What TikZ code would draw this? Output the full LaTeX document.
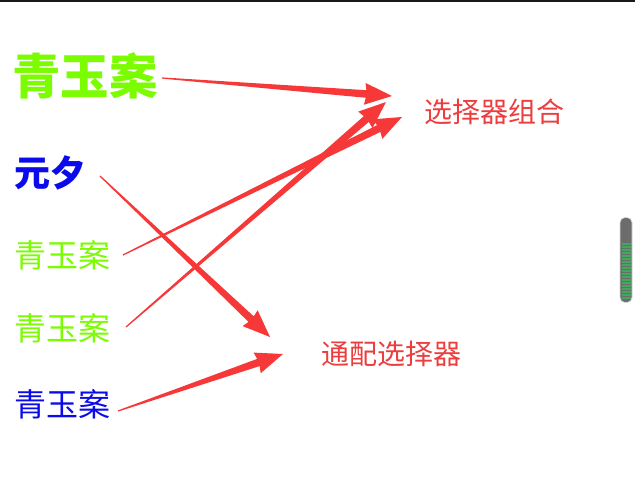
\documentclass[tikz,border=0pt]{standalone}
\usepackage{fontspec}
\newfontfamily\cjk{Noto Sans CJK SC}
\usetikzlibrary{calc}
\definecolor{lgreen}{RGB}{124,252,0}
\definecolor{dblue}{RGB}{10,10,235}
\definecolor{redtext}{RGB}{236,62,62}
\definecolor{redarrow}{RGB}{246,56,56}
\definecolor{sbgray}{RGB}{108,108,108}
\definecolor{sbgreen}{RGB}{70,165,95}
\tikzset{
  txt/.style={anchor=west, inner sep=0pt, font=\cjk},
  arrowfill/.style={fill=redarrow}
}
\newcommand\taperarrow[2]{%
  \path ($(#2)!26pt!(#1)$) coordinate (hbase);
  \fill[arrowfill] ($(#1)!0.6pt!90:(#2)$) -- ($(hbase)!3.8pt!90:(#2)$) -- ($(hbase)!11pt!97:(#2)$) -- (#2) -- ($(hbase)!11pt!-97:(#2)$) -- ($(hbase)!3.8pt!-90:(#2)$) -- ($(#1)!0.6pt!-90:(#2)$) -- cycle;%
}
\begin{document}
\begin{tikzpicture}[x=1pt,y=-1pt]
\useasboundingbox (0,0) rectangle (635,503);
\fill[white] (0,0) rectangle (635,503);
\fill[black!90] (0,0) rectangle (635,2);
% texts
\node[txt, text=lgreen, font=\cjk\bfseries\fontsize{48.5}{52}\selectfont] (big) at (12,76) {青玉案};
\node[txt, text=dblue, font=\cjk\bfseries\fontsize{36}{40}\selectfont] (yx) at (14,173) {元夕};
\node[txt, text=lgreen, font=\cjk\fontsize{32}{36}\selectfont] (g1) at (14,255) {青玉案};
\node[txt, text=lgreen, font=\cjk\fontsize{32}{36}\selectfont] (g2) at (14,328) {青玉案};
\node[txt, text=dblue, font=\cjk\fontsize{32}{36}\selectfont] (b1) at (14,404) {青玉案};
\node[txt, text=redtext, font=\cjk\fontsize{28}{32}\selectfont] (comb) at (424,112) {选择器组合};
\node[txt, text=redtext, font=\cjk\fontsize{28}{32}\selectfont] (wild) at (321,354) {通配选择器};
% arrow ends
\coordinate (s1) at (162,78);
\coordinate (t1) at (392,96);
\coordinate (s2) at (100,176);
\coordinate (t2) at (270,337);
\coordinate (s3) at (123,255);
\coordinate (t3) at (402,117);
\coordinate (s4) at (126,327);
\coordinate (t4) at (386,102);
\coordinate (s5) at (118,411);
\coordinate (t5) at (283,354);
\taperarrow{s1}{t1}
\taperarrow{s2}{t2}
\taperarrow{s3}{t3}
\taperarrow{s4}{t4}
\taperarrow{s5}{t5}
% scrollbar
\node[draw=black!15, fill=sbgray, rounded corners=5pt, minimum width=12pt, minimum height=85pt, inner sep=0pt, line width=0.6pt] (sb) at (626,260) {};
\foreach \yy in {244,247,...,299} {
  \draw[sbgreen, line width=1.4pt] (621.5,\yy) -- (630.5,\yy);
}
\end{tikzpicture}
\end{document}
